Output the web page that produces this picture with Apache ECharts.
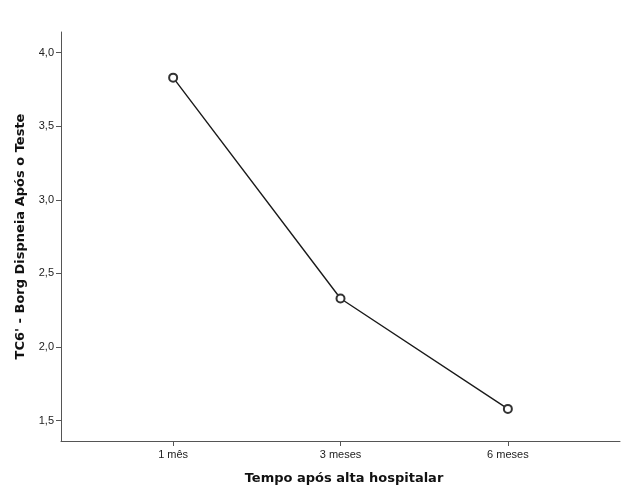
<!DOCTYPE html>
<html>
<head>
<meta charset="utf-8">
<script src="https://cdn.jsdelivr.net/npm/echarts@6/dist/echarts.min.js"></script>
<style>html,body{margin:0;padding:0;background:#fff}#c{width:627px;height:502px}</style>
</head>
<body>
<div id="c"></div>
<script>
var categories = ['1 mês', '3 meses', '6 meses'];
var values = [3.83, 2.33, 1.58];
var yTicks = [1.5, 2.0, 2.5, 3.0, 3.5, 4.0];
var xTicks = [0, 1, 2];

var chart = echarts.init(document.getElementById('c'), null, {renderer: 'canvas'});
var data = values.map(function (v, i) { return [i, v]; });
var axisColor = '#555';
chart.setOption({
  animation: false,
  backgroundColor: '#fff',
  grid: {left: 61, right: 7, top: 32, bottom: 61, containLabel: false},
  xAxis: {
    type: 'value', min: -0.67, max: 2.67,
    name: 'Tempo após alta hospitalar', nameLocation: 'middle', nameGap: 31,
    nameTextStyle: {fontFamily: 'DejaVu Sans', fontWeight: 'bold', fontSize: 13, color: '#111', padding: [0, 0, 0, 7]},
    splitLine: {show: false},
    axisLine: {show: true, onZero: false, lineStyle: {color: axisColor, width: 1}},
    axisTick: {show: true, length: 5, customValues: xTicks, lineStyle: {color: axisColor}},
    axisLabel: {customValues: xTicks, margin: 8, fontFamily: 'Liberation Sans', fontSize: 11, color: '#222',
      formatter: function (v) { return categories[Math.round(v)]; }}
  },
  yAxis: {
    type: 'value', min: 1.362, max: 4.14,
    name: "TC6' - Borg Dispneia Após o Teste", nameLocation: 'middle', nameGap: 34,
    nameTextStyle: {fontFamily: 'DejaVu Sans', fontWeight: 'bold', fontSize: 13, color: '#111'},
    splitLine: {show: false},
    axisLine: {show: true, onZero: false, lineStyle: {color: axisColor, width: 1}},
    axisTick: {show: true, length: 5, customValues: yTicks, lineStyle: {color: axisColor}},
    axisLabel: {customValues: yTicks, margin: 7, fontFamily: 'Liberation Sans', fontSize: 11, color: '#222',
      formatter: function (v) { return v.toFixed(1).replace('.', ','); }}
  },
  series: [{
    type: 'line', data: data,
    symbol: 'emptyCircle', symbolSize: 8, showSymbol: true,
    lineStyle: {color: '#1a1a1a', width: 1.4},
    itemStyle: {color: '#333', borderColor: '#333', borderWidth: 1}
  }]
});
</script>
</body>
</html>
